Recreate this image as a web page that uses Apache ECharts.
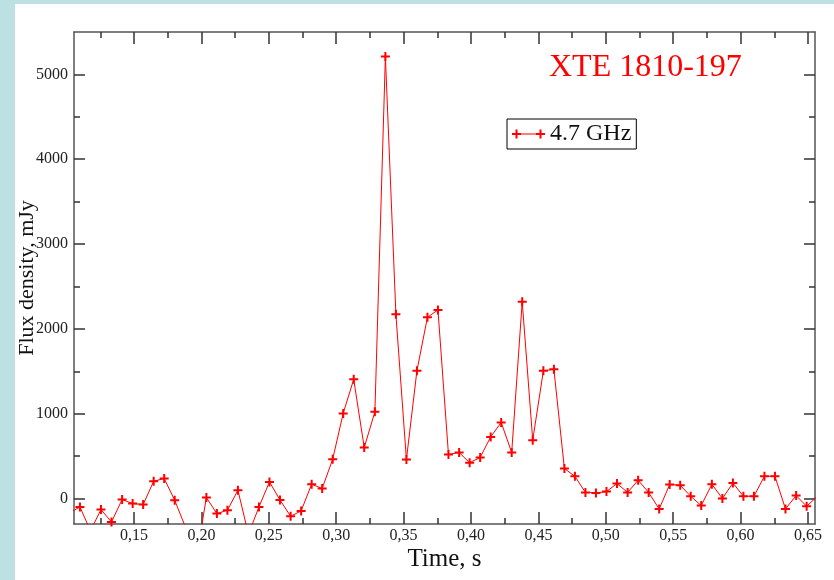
<!DOCTYPE html>
<html>
<head>
<meta charset="utf-8">
<title>XTE 1810-197 radio flux</title>
<script src="https://cdn.jsdelivr.net/npm/echarts@6/dist/echarts.min.js"></script>
<style>
  html, body { margin: 0; padding: 0; background: #ffffff; }
  #chart { width: 834px; height: 580px; }
</style>
</head>
<body>
<div id="chart"></div>
<script>
// Sample times (s), 1/128 s cadence
const times = [
  0.1021, 0.1099, 0.1177, 0.1255, 0.1333, 0.1412, 0.1490, 0.1568, 0.1646, 0.1724,
  0.1802, 0.1880, 0.1958, 0.2037, 0.2115, 0.2193, 0.2271, 0.2349, 0.2427, 0.2505,
  0.2583, 0.2662, 0.2740, 0.2818, 0.2896, 0.2974, 0.3052, 0.3130, 0.3208, 0.3287,
  0.3365, 0.3443, 0.3521, 0.3599, 0.3677, 0.3755, 0.3833, 0.3912, 0.3990, 0.4068,
  0.4146, 0.4224, 0.4302, 0.4380, 0.4458, 0.4537, 0.4615, 0.4693, 0.4771, 0.4849,
  0.4927, 0.5005, 0.5083, 0.5162, 0.5240, 0.5318, 0.5396, 0.5474, 0.5552, 0.5630,
  0.5708, 0.5787, 0.5865, 0.5943, 0.6021, 0.6099, 0.6177, 0.6255, 0.6333, 0.6412,
  0.6490, 0.6568
];

// Flux density at 4.7 GHz (mJy)
const flux = [
  -170, -99, -380, -130, -276, -12, -59, -71, 204, 236,
  -20, -330, -750, 12, -177, -138, 98, -420, -99, 196,
  -16, -209, -146, 169, 118, 464, 1004, 1405, 602, 1022,
  5210, 2172, 460, 1507, 2137, 2223, 519, 543, 423, 484,
  727, 897, 543, 2321, 688, 1507, 1523, 354, 262, 72,
  66, 82, 177, 72, 216, 71, -123, 165, 157, 27,
  -83, 169, 0, 184, 27, 27, 263, 263, -123, 35,
  -91, 24
];

const xMajorTicks = [0.15, 0.20, 0.25, 0.30, 0.35, 0.40, 0.45, 0.50, 0.55, 0.60, 0.65];
const xMinorTicks = [0.125, 0.175, 0.225, 0.275, 0.325, 0.375, 0.425, 0.475, 0.525, 0.575, 0.625];
const yMajorTicks = [0, 1000, 2000, 3000, 4000, 5000];
const yMinorTicks = [500, 1500, 2500, 3500, 4500];

const seriesName = '4.7 GHz';
const titleText = 'XTE 1810-197';
const xName = 'Time, s';
const yName = 'Flux density, mJy';

const X_MIN = 0.1055, X_MAX = 0.6552;
const Y_MIN = -300, Y_MAX = 5500;

const SERIF = '"Liberation Serif", "DejaVu Serif", serif';
const RED = '#ff0000';
const PLUS = 'path://M3.5 0H5.5V3.5H9V5.5H5.5V9H3.5V5.5H0V3.5H3.5Z';
const LEGEND_ICON = 'path://M3.5 0H5.5V9H3.5Z M0 3.5H9V5.5H0Z M27.5 0H29.5V9H27.5Z M24 3.5H33V5.5H24Z M4.5 4H28.5V5H4.5Z';

function commaDecimal(v) { return v.toFixed(2).replace('.', ','); }
function plainNumber(v) { return String(v); }

// One axis per side for the long ticks (with frame line), one for the short ticks
function xAxisDef(position, ticks, len, withLine, withLabels) {
  const ax = {
    type: 'value', gridIndex: 0, position: position,
    min: X_MIN, max: X_MAX,
    axisLine: { show: withLine, onZero: false, lineStyle: { color: '#555', width: 1.5 } },
    axisTick: { show: true, inside: true, length: len, customValues: ticks,
                lineStyle: { color: '#333', width: 1.5 } },
    axisLabel: { show: withLabels, customValues: ticks, formatter: commaDecimal, margin: 4,
                 fontFamily: SERIF, fontSize: 16, color: '#222' },
    splitLine: { show: false }
  };
  if (withLabels) {
    ax.name = xName; ax.nameLocation = 'middle'; ax.nameGap = 23; ax.nameMoveOverlap = false;
    ax.nameTextStyle = { fontFamily: SERIF, fontSize: 25, color: '#111' };
  }
  return ax;
}

function yAxisDef(position, ticks, len, withLine, withLabels) {
  const ax = {
    type: 'value', gridIndex: 0, position: position,
    min: Y_MIN, max: Y_MAX,
    axisLine: { show: withLine, onZero: false, lineStyle: { color: '#555', width: 1.5 } },
    axisTick: { show: true, inside: true, length: len, customValues: ticks,
                lineStyle: { color: '#333', width: 1.5 } },
    axisLabel: { show: withLabels, customValues: ticks, formatter: plainNumber, margin: 6,
                 fontFamily: SERIF, fontSize: 16, color: '#222' },
    splitLine: { show: false }
  };
  if (withLabels) {
    ax.name = yName; ax.nameLocation = 'middle'; ax.nameGap = 36; ax.nameMoveOverlap = false;
    ax.nameTextStyle = { fontFamily: SERIF, fontSize: 22, color: '#111' };
  }
  return ax;
}

const chart = echarts.init(document.getElementById('chart'), null, { renderer: 'canvas' });

chart.setOption({
  animation: false,
  backgroundColor: '#ffffff',
  graphic: [
    { type: 'rect', left: 0, top: 0, shape: { width: 15, height: 580 },
      style: { fill: '#bde1e3' }, silent: true, z: -10 },
    { type: 'rect', left: 0, top: 0, shape: { width: 834, height: 4 },
      style: { fill: '#bde1e3' }, silent: true, z: -10 }
  ],
  title: {
    text: titleText, left: 549, top: 52, padding: 0,
    textStyle: { color: RED, fontFamily: SERIF, fontSize: 32, fontWeight: 'normal' }
  },
  legend: {
    data: [seriesName], left: 507, top: 119, padding: [3, 5, 3, 5],
    selectedMode: false,
    icon: LEGEND_ICON, itemWidth: 33, itemHeight: 9,
    borderColor: '#000', borderWidth: 1, backgroundColor: '#fff',
    itemStyle: { color: RED, borderWidth: 0 },
    textStyle: { fontFamily: SERIF, fontSize: 24, color: '#111' }
  },
  grid: { left: 74, right: 19, top: 32, bottom: 56, containLabel: false, outerBoundsMode: 'none' },
  xAxis: [
    xAxisDef('bottom', xMajorTicks, 12, true, true),
    xAxisDef('top', xMajorTicks, 12, true, false),
    xAxisDef('bottom', xMinorTicks, 6, false, false),
    xAxisDef('top', xMinorTicks, 6, false, false)
  ],
  yAxis: [
    yAxisDef('left', yMajorTicks, 11, true, true),
    yAxisDef('right', yMajorTicks, 11, true, false),
    yAxisDef('left', yMinorTicks, 6, false, false),
    yAxisDef('right', yMinorTicks, 6, false, false)
  ],
  series: [{
    name: seriesName,
    type: 'line',
    xAxisIndex: 0, yAxisIndex: 0,
    data: times.map((t, i) => [t, flux[i]]),
    clip: true,
    showAllSymbol: true,
    symbol: PLUS, symbolSize: 9,
    itemStyle: { color: RED, borderWidth: 0 },
    lineStyle: { color: RED, width: 1 },
    emphasis: { disabled: true }
  }]
});
</script>
</body>
</html>
